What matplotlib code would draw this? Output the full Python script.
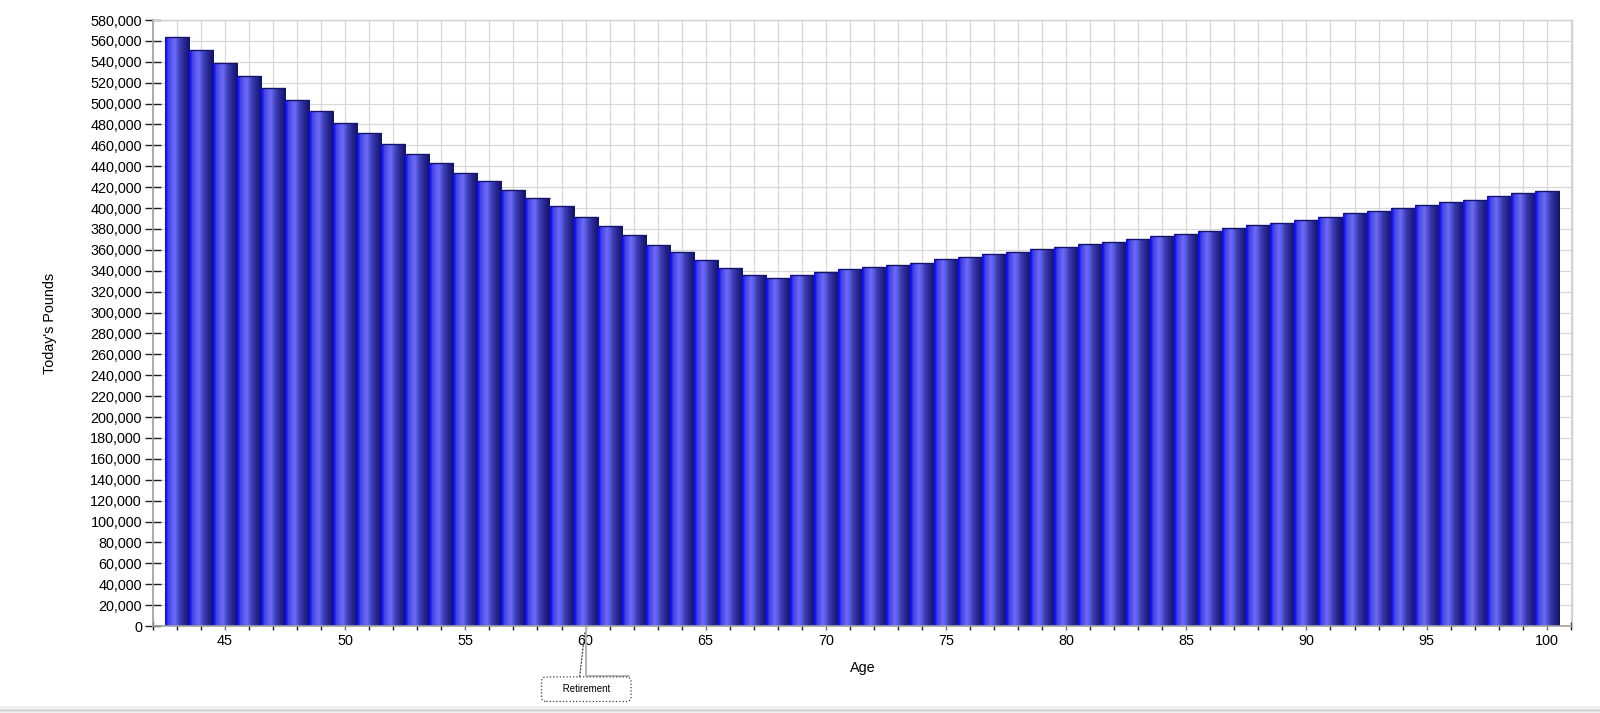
import numpy as np
import matplotlib
matplotlib.use("Agg")
import matplotlib.pyplot as plt
from matplotlib.colors import LinearSegmentedColormap
from matplotlib.patches import Rectangle
from matplotlib.ticker import FuncFormatter, MultipleLocator

# ---- data ----
ages = list(range(43, 101))
values = [
    564100, 551100, 539300, 526600, 514800, 503700, 492900, 481400, 471900, 461700,  # 43-52
    452200, 443300, 433800, 426100, 417600, 409600, 401700, 391500, 382600, 374000,  # 53-62
    365100, 357500, 349900, 342800, 335900, 333300, 335900, 338400, 341300, 343200,  # 63-72
    345700, 347900, 350800, 353300, 355900, 358400, 361300, 362900, 365400, 368000,  # 73-82
    370500, 373000, 375600, 378500, 381000, 383500, 386100, 388900, 391500, 395000,  # 83-92
    397500, 400100, 402600, 405500, 408000, 411200, 414100, 416600,                  # 93-100
]
y_ticks = list(range(0, 580001, 20000))
x_major_ticks = [45, 50, 55, 60, 65, 70, 75, 80, 85, 90, 95, 100]
retirement_age = 60
x_label = "Age"
y_label = "Today's Pounds"
annotation_text = "Retirement"

# ---- figure ----
plt.rcParams['font.family'] = ['Liberation Sans', 'DejaVu Sans']
fig = plt.figure(figsize=(16, 7.13), dpi=100)
ax = fig.add_axes([153 / 1600, 1 - 626 / 713, (1572 - 153) / 1600, (626 - 20) / 713])

bars = ax.bar(ages, values, width=1.0, color='#3a3ad0', edgecolor='none', zorder=2)

# cylinder-like horizontal gradient for each bar
cmap = LinearSegmentedColormap.from_list('cyl', [
    (0.00, '#0808ff'),
    (0.07, '#1818f6'),
    (0.12, '#4040e0'),
    (0.25, '#5656ee'),
    (0.37, '#6c6cf8'),
    (0.48, '#5858dc'),
    (0.62, '#3a3ab0'),
    (0.80, '#24248c'),
    (1.00, '#121266'),
])
grad = np.linspace(0, 1, 256).reshape(1, -1)
for b in bars:
    x0, y0 = b.get_x(), b.get_y()
    w, h = b.get_width(), b.get_height()
    im = ax.imshow(grad, cmap=cmap, aspect='auto', extent=(x0, x0 + w, y0, y0 + h),
                   origin='lower', zorder=2.1, interpolation='bilinear')
    im.set_clip_path(b)
# thin dark top edge
ax.hlines(values, [a - 0.5 for a in ages], [a + 0.5 for a in ages],
          colors='#14146a', linewidth=1.0, zorder=2.2)

ax.set_xlim(42.0, 101.05)
ax.set_ylim(0, 580000)

# grid
ax.set_yticks(y_ticks)
ax.yaxis.set_major_formatter(FuncFormatter(lambda v, p: f"{int(v):,}"))
ax.set_xticks(x_major_ticks)
ax.xaxis.set_minor_locator(MultipleLocator(1))
ax.grid(True, which='both', color='#d8d8d8', linewidth=0.9, zorder=0)
ax.set_axisbelow(True)

ax.tick_params(axis='y', which='major', direction='inout', length=12, width=1.0,
               color='#202020', labelsize=10.4, pad=2, labelcolor='#000000')
ax.tick_params(axis='x', which='major', direction='inout', length=6, width=1.0,
               color='#707070', labelsize=10.4, pad=3, labelcolor='#000000')
ax.tick_params(axis='x', which='minor', direction='inout', length=6, width=1.0,
               color='#202020')

for s in ['left', 'bottom']:
    ax.spines[s].set_color('#a0a0a0')
    ax.spines[s].set_linewidth(1.2)
for s in ['right', 'top']:
    ax.spines[s].set_color('#d0d0d0')
    ax.spines[s].set_linewidth(1.0)

ax.set_xlabel(x_label, fontsize=10.4, labelpad=9)
ax.set_ylabel(y_label, fontsize=10.4, labelpad=24)

# Retirement callout
ax.annotate('', xy=(retirement_age, 0), xycoords='data',
            xytext=(31, -36), textcoords='offset points',
            arrowprops=dict(arrowstyle='-', color='#b4b4b4', lw=1.4,
                            connectionstyle='angle,angleA=0,angleB=90,rad=0',
                            shrinkA=0, shrinkB=0),
            annotation_clip=False, zorder=1)
ax.annotate("     " + annotation_text + "     ", xy=(retirement_age, 0), xycoords='data',
            xytext=(0.5, -45.5), textcoords='offset points',
            ha='center', va='center', fontsize=7,
            bbox=dict(boxstyle='round,pad=0.75,rounding_size=0.5', fc='white',
                      ec='#404040', ls=':', lw=0.9),
            arrowprops=dict(arrowstyle='-', color='#404040', lw=0.9, ls=':',
                            relpos=(0.4, 1.0), shrinkA=0, shrinkB=5),
            annotation_clip=False)

# bottom window band
fig.patches.append(Rectangle((0, 0), 1, 7.3 / 713, transform=fig.transFigure,
                             facecolor='#f0f0f0', edgecolor='none', zorder=-1))
fig.add_artist(plt.Line2D([0, 1], [3 / 713, 3 / 713], transform=fig.transFigure,
                          color='#c8c8c8', lw=1.0))

fig.savefig('out.png', dpi=100, facecolor='white')
